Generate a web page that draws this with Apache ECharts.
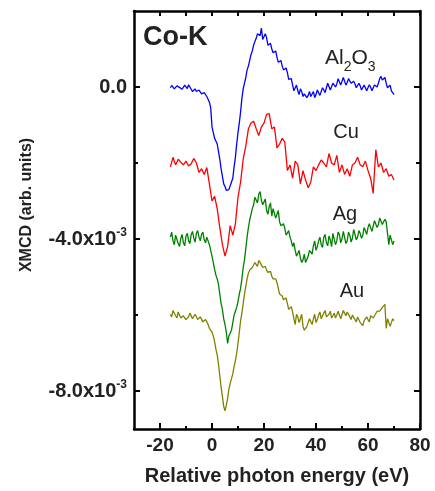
<!DOCTYPE html>
<html>
<head>
<meta charset="utf-8">
<script src="https://cdn.jsdelivr.net/npm/echarts@6/dist/echarts.min.js"></script>
<style>
html,body{margin:0;padding:0;background:#fff;}
#chart{width:435px;height:491px;}
</style>
</head>
<body>
<div id="chart"></div>
<script>
// Relative photon energy (eV), 0.5 eV grid (Al2O3, Ag, Au)
const energyFine = [-16,-15.5,-15,-14.5,-14,-13.5,-13,-12.5,-12,-11.5,-11,-10.5,-10,-9.5,-9,-8.5,-8,-7.5,-7,-6.5,-6,-5.5,-5,-4.5,-4,-3.5,-3,-2.5,-2,-1.5,-1,-0.5,
  0,0.5,1,1.5,2,2.5,3,3.5,4,4.5,5,5.5,6,6.5,7,7.5,8,8.5,9,9.5,10,10.5,11,11.5,12,12.5,13,13.5,14,14.5,15,15.5,16,16.5,17,17.5,18,18.5,19,19.5,
  20,20.5,21,21.5,22,22.5,23,23.5,24,24.5,25,25.5,26,26.5,27,27.5,28,28.5,29,29.5,30,30.5,31,31.5,32,32.5,33,33.5,34,34.5,35,35.5,36,36.5,37,37.5,38,38.5,39,39.5,
  40,40.5,41,41.5,42,42.5,43,43.5,44,44.5,45,45.5,46,46.5,47,47.5,48,48.5,49,49.5,50,50.5,51,51.5,52,52.5,53,53.5,54,54.5,55,55.5,56,56.5,57,57.5,58,58.5,59,59.5,
  60,60.5,61,61.5,62,62.5,63,63.5,64,64.5,65,65.5,66,66.5,67,67.5,68,68.5,69,69.5,70];
// Relative photon energy (eV), 1 eV grid (Cu)
const energy = [-16,-15,-14,-13,-12,-11,-10,-9,-8,-7,-6,-5,-4,-3,-2,-1,0,1,2,3,4,5,6,7,8,9,10,11,12,13,14,15,16,17,18,19,20,21,22,23,24,25,26,27,28,29,30,31,32,33,34,35,36,37,38,39,40,41,42,43,44,45,46,47,48,49,50,51,52,53,54,55,56,57,58,59,60,61,62,63,64,65,66,67,68,69,70];

// XMCD values in units of 1e-3 (curves vertically offset as in the figure)
const al2o3 = [-0.02,0.04,0.00,-0.05,-0.03,0.03,0.00,-0.01,-0.04,-0.06,-0.02,0.05,0.02,-0.04,0.06,0.00,-0.06,-0.12,-0.08,-0.05,-0.12,-0.15,-0.08,-0.10,-0.18,-0.20,-0.15,-0.12,-0.25,-0.30,-0.40,-0.55,
  -1.05,-1.20,-1.35,-1.40,-1.50,-1.70,-1.90,-2.15,-2.35,-2.55,-2.62,-2.72,-2.76,-2.70,-2.60,-2.50,-2.40,-2.10,-1.85,-1.50,-1.20,-0.95,-0.65,-0.30,-0.05,0.10,0.25,0.45,0.55,0.70,0.85,0.95,1.10,1.20,1.28,1.40,1.40,1.35,1.55,1.25,
  1.20,1.40,1.30,1.10,1.05,1.15,1.00,0.90,0.85,0.95,0.78,0.65,0.62,0.70,0.55,0.45,0.48,0.50,0.38,0.20,0.15,0.22,0.05,-0.10,-0.02,0.05,-0.10,-0.20,-0.05,-0.12,-0.25,-0.18,-0.15,-0.28,-0.22,-0.12,-0.25,-0.20,-0.12,-0.28,
  -0.20,-0.08,-0.10,-0.22,-0.18,-0.02,-0.08,-0.15,-0.02,0.10,0.05,-0.08,-0.05,0.10,0.12,0.00,0.08,0.22,0.20,0.05,0.10,0.25,0.22,0.05,0.12,0.22,0.18,0.10,0.05,0.15,0.08,-0.02,0.00,0.10,0.03,-0.08,-0.05,0.05,0.02,-0.10,
  -0.08,0.06,0.00,-0.10,-0.06,0.05,0.02,0.00,0.10,0.22,0.28,0.18,0.20,0.25,0.10,-0.02,0.00,0.05,-0.10,-0.12,-0.20];
const cu = [-2.10,-1.85,-2.05,-1.90,-1.98,-2.05,-1.95,-2.08,-2.02,-1.88,-2.00,-2.25,-2.15,-2.30,-2.12,-2.55,-3.00,-2.88,-3.20,-3.70,-4.15,-4.45,-4.20,-3.65,-3.90,-3.60,-2.90,-2.50,-1.90,-1.55,-1.10,-0.95,-0.90,-1.10,-1.28,-1.05,-0.95,-0.72,-0.70,-1.10,-1.05,-1.60,-1.50,-1.35,-1.45,-2.20,-2.05,-2.40,-1.95,-2.05,-2.55,-2.20,-2.45,-2.65,-2.50,-2.10,-2.20,-2.05,-1.92,-2.00,-2.10,-1.75,-2.00,-2.05,-1.80,-2.25,-2.05,-2.30,-2.15,-2.35,-2.05,-2.00,-1.85,-2.05,-2.10,-1.95,-2.20,-2.40,-2.80,-1.65,-2.10,-2.00,-2.25,-2.15,-2.35,-2.30,-2.45];
const ag = [-3.95,-3.82,-4.05,-4.15,-3.90,-3.85,-4.12,-4.20,-3.98,-3.88,-4.10,-4.18,-3.92,-3.85,-4.05,-4.12,-3.88,-3.80,-3.98,-4.08,-3.85,-3.78,-3.95,-4.05,-3.88,-3.82,-4.02,-4.10,-3.95,-3.90,-4.15,-4.30,
  -4.45,-4.62,-4.80,-4.95,-5.05,-5.20,-5.45,-5.70,-5.85,-6.10,-6.25,-6.45,-6.75,-6.55,-6.50,-6.40,-6.20,-6.00,-5.90,-5.80,-5.65,-5.45,-5.30,-5.05,-4.75,-4.55,-4.25,-3.95,-3.70,-3.50,-3.35,-3.20,-3.10,-2.90,-2.95,-3.05,-2.82,-2.75,-2.98,-3.10,
  -3.12,-2.95,-3.25,-3.35,-3.15,-3.05,-3.40,-3.20,-3.15,-3.45,-3.35,-3.25,-3.55,-3.65,-3.70,-3.60,-3.72,-3.90,-3.88,-3.78,-3.95,-4.05,-4.20,-4.10,-4.30,-4.45,-4.38,-4.30,-4.50,-4.62,-4.55,-4.40,-4.62,-4.58,-4.45,-4.30,-4.25,-4.40,-4.18,-4.05,
  -4.30,-4.20,-4.05,-3.95,-4.15,-4.22,-3.95,-3.88,-4.10,-4.18,-3.92,-4.02,-4.20,-3.85,-3.90,-4.15,-4.05,-3.82,-3.88,-4.10,-4.00,-3.80,-3.85,-4.12,-4.05,-3.82,-3.90,-4.08,-3.98,-3.75,-3.80,-4.02,-3.95,-3.78,-3.85,-3.98,-3.90,-3.70,-3.78,-3.88,
  -3.70,-3.60,-3.62,-3.80,-3.75,-3.52,-3.55,-3.70,-3.62,-3.45,-3.50,-3.62,-3.65,-3.48,-3.55,-3.85,-4.15,-3.90,-3.95,-4.15,-4.05];
const au = [-5.98,-6.05,-5.88,-5.90,-6.02,-6.08,-5.92,-5.95,-6.08,-6.10,-6.02,-5.98,-6.12,-6.08,-6.05,-5.95,-6.00,-6.10,-6.08,-5.98,-6.02,-6.12,-6.15,-6.05,-6.10,-6.18,-6.20,-6.12,-6.18,-6.25,-6.35,-6.38,
  -6.45,-6.55,-6.70,-6.90,-7.05,-7.30,-7.60,-7.90,-8.15,-8.40,-8.52,-8.38,-8.20,-7.95,-7.80,-7.75,-7.55,-7.35,-7.20,-7.00,-6.75,-6.45,-6.15,-5.95,-5.70,-5.45,-5.25,-5.05,-4.90,-4.82,-4.78,-4.75,-4.70,-4.62,-4.65,-4.72,-4.56,-4.60,-4.68,-4.75,
  -4.70,-4.72,-4.82,-4.88,-4.90,-4.85,-4.98,-5.05,-5.10,-5.05,-5.15,-5.30,-5.45,-5.40,-5.50,-5.60,-5.62,-5.55,-5.70,-5.85,-5.90,-5.78,-5.92,-6.10,-6.25,-5.98,-6.05,-6.20,-6.10,-5.98,-6.30,-6.40,-6.45,-6.30,-6.25,-6.10,-6.15,-6.25,-6.10,-5.98,
  -6.20,-6.12,-6.00,-5.92,-6.10,-6.05,-5.95,-5.88,-6.05,-6.10,-5.98,-5.90,-6.08,-6.02,-5.95,-6.08,-6.00,-5.90,-5.90,-6.10,-6.05,-5.88,-5.95,-6.02,-5.92,-5.98,-6.05,-6.12,-6.00,-5.95,-6.12,-6.18,-6.05,-6.10,-6.20,-6.25,-6.28,-6.15,-6.10,-6.05,
  -6.12,-6.18,-6.02,-5.98,-6.08,-6.02,-5.98,-5.90,-5.95,-5.90,-5.85,-5.80,-5.75,-5.72,-6.35,-6.10,-6.15,-6.30,-6.20,-6.10,-6.15];

const xMajor = [-20,0,20,40,60,80];
const xMinor = [-10,10,30,50,70];
const yMajor = [0,-4,-8];
const yMinor = [-2,-6];
const xName = 'Relative photon energy (eV)';
const yName = 'XMCD (arb. units)';

const FONT = '"Liberation Sans", Arial, sans-serif';
const axisColor = '#000';
const textColor = '#222';

function pair(xs, ys){ return xs.map((e,i)=>[e, ys[i]]); }

function yLabel(v){
  if (v === 0) return '{a|0.0}';
  return '{a|' + v.toFixed(1) + 'x10}{s|-3}';
}

function xAx(pos, ticks, len, showLine, showLabel, extra){
  return Object.assign({
    type:'value', min:-30, max:80, position:pos, gridIndex:0,
    axisLine:{show:showLine, onZero:false, lineStyle:{color:axisColor, width:2.5}},
    axisTick:{show:true, inside:true, length:len, customValues:ticks, lineStyle:{color:axisColor, width:2}},
    axisLabel:{show:showLabel, customValues:xMajor, fontSize:19, fontWeight:'bold', fontFamily:FONT, color:textColor, margin:7},
    splitLine:{show:false}
  }, extra||{});
}
function yAx(pos, ticks, len, showLine, showLabel){
  return {
    type:'value', min:-9, max:2, position:pos, gridIndex:0,
    axisLine:{show:showLine, onZero:false, lineStyle:{color:axisColor, width:2.5}},
    axisTick:{show:true, inside:true, length:len, customValues:ticks, lineStyle:{color:axisColor, width:2}},
    axisLabel:{show:showLabel, customValues:yMajor, margin:7, formatter:yLabel,
      rich:{
        a:{fontSize:20, fontWeight:'bold', fontFamily:FONT, color:textColor, lineHeight:24},
        s:{fontSize:12, fontWeight:'bold', fontFamily:FONT, color:textColor, lineHeight:12, verticalAlign:'top'}
      }},
    splitLine:{show:false}
  };
}

const chart = echarts.init(document.getElementById('chart'), null, {renderer:'canvas'});
const lineStyle = (c)=>({color:c, width:1.3});
chart.setOption({
  animation:false,
  backgroundColor:'#fff',
  grid:{left:134, right:15, top:11, bottom:60},
  xAxis:[
    xAx('bottom', xMajor, 6, true, true, {name:xName, nameLocation:'middle', nameGap:37,
      nameTextStyle:{fontSize:20, fontWeight:'bold', fontFamily:FONT, color:textColor}}),
    xAx('bottom', xMinor, 3, false, false),
    xAx('top', xMajor, 5, true, false),
    xAx('top', xMinor, 5, false, false)
  ],
  yAxis:[
    yAx('left', yMajor, 6, true, true),
    yAx('left', yMinor, 4, false, false),
    yAx('right', yMajor, 6, true, false),
    yAx('right', yMinor, 4, false, false)
  ],
  series:[
    {name:'Al2O3', type:'line', data:pair(energyFine, al2o3), showSymbol:false, lineStyle:lineStyle('#0000ff'), itemStyle:{color:'#0000ff'}},
    {name:'Cu', type:'line', data:pair(energy, cu), showSymbol:false, lineStyle:lineStyle('#ff0000'), itemStyle:{color:'#ff0000'}},
    {name:'Ag', type:'line', data:pair(energyFine, ag), showSymbol:false, lineStyle:lineStyle('#008000'), itemStyle:{color:'#008000'}},
    {name:'Au', type:'line', data:pair(energyFine, au), showSymbol:false, lineStyle:lineStyle('#808000'), itemStyle:{color:'#808000'}}
  ],
  graphic:[
    {type:'text', x:143, y:38, style:{text:'Co-K', font:'bold 27px ' + FONT, fill:textColor, textAlign:'left', textVerticalAlign:'middle'}},
    {type:'text', x:325, y:58, style:{text:'{m|Al}{s|2}{m|O}{s|3}', textAlign:'left', textVerticalAlign:'middle',
      rich:{
        m:{fontSize:21, fontFamily:FONT, fill:'#222', lineHeight:32},
        s:{fontSize:14, fontFamily:FONT, fill:'#222', lineHeight:32, verticalAlign:'bottom'}
      }}},
    {type:'text', x:346, y:132, style:{text:'Cu', font:'20px ' + FONT, fill:'#222', textAlign:'center', textVerticalAlign:'middle'}},
    {type:'text', x:345, y:214, style:{text:'Ag', font:'20px ' + FONT, fill:'#222', textAlign:'center', textVerticalAlign:'middle'}},
    {type:'text', x:352, y:291, style:{text:'Au', font:'20px ' + FONT, fill:'#222', textAlign:'center', textVerticalAlign:'middle'}},
    {type:'text', x:27, y:205, rotation:Math.PI/2, style:{text:yName, font:'bold 16px ' + FONT, fill:textColor, textAlign:'center', textVerticalAlign:'middle'}}
  ]
});
</script>
</body>
</html>
